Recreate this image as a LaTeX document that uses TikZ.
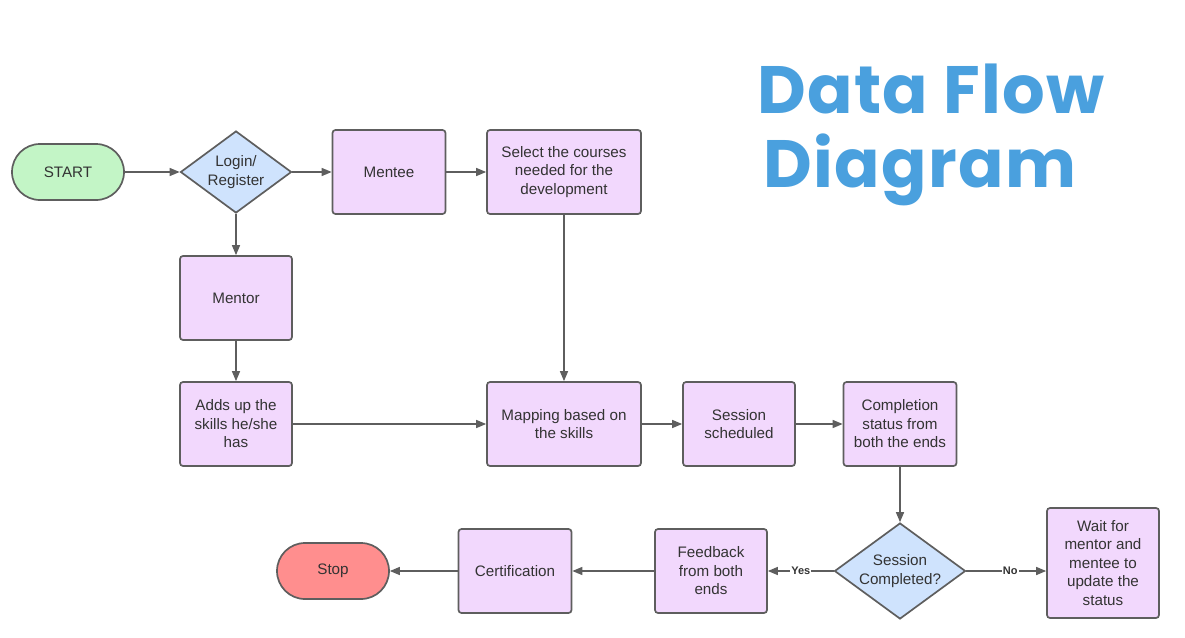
\documentclass[tikz,border=0pt]{standalone}
\usepackage{fontspec}
\setmainfont{Liberation Sans}
\newfontfamily\titlefont[LetterSpace=2]{Poppins}
\usepackage{tikz}
\usetikzlibrary{positioning, shapes.geometric, arrows.meta}

\definecolor{boxline}{HTML}{5E5E5E}
\definecolor{boxtext}{HTML}{333333}
\definecolor{procfill}{HTML}{F2D8FD}
\definecolor{startfill}{HTML}{C3F5C6}
\definecolor{decfill}{HTML}{CFE3FD}
\definecolor{stopfill}{HTML}{FF8E8E}
\definecolor{titleblue}{HTML}{4AA0DE}

\tikzset{
	base/.style={draw=boxline, line width=1.7pt, text=boxtext, font=\fontsize{15.2}{18.5}\selectfont, align=center, inner sep=2pt},
	procbox/.style={base, rectangle, rounded corners=3pt, fill=procfill, minimum width=112pt, minimum height=84pt},
	termbox/.style={base, rectangle, rounded corners=28pt, minimum width=112pt, minimum height=56pt},
	decbox/.style={base, diamond, fill=decfill, inner sep=0pt},
	flow/.style={draw=boxline, line width=1.4pt, -{Triangle[length=10pt, width=8pt]}},
	flowlabel/.style={fill=white, text=boxtext, inner sep=1pt, font=\fontsize{11}{12}\selectfont\bfseries},
	titletext/.style={text=titleblue, anchor=base, inner sep=0pt, font=\titlefont\fontsize{67}{74}\selectfont\bfseries},
}

\begin{document}
\begin{tikzpicture}[x=1pt, y=-1pt]
	\useasboundingbox[fill=white] (0,0) rectangle (1185,637);

	% title
	\node[titletext] (title1) at (931,113) {Data Flow};
	\node[titletext] (title2) at (920,187) {Diagram};

	% top row
	\node[termbox, fill=startfill] (start) at (68,172) {START};
	\node[decbox, shape aspect=1.35, minimum width=111pt, minimum height=82pt] (login) at (236,172) {Login/\\Register};
	\node[procbox, minimum width=113pt] (mentee) at (389,172) {Mentee};
	\node[procbox, minimum width=154pt] (courses) at (564,172) {Select the courses\\needed for the\\development};

	% mentor side
	\node[procbox] (mentor) at (236,298) {Mentor};
	\node[procbox] (skills) at (236,424) {Adds up the\\skills he/she\\has};

	% middle row
	\node[procbox, minimum width=154pt] (mapping) at (564,424) {Mapping based on\\the skills};
	\node[procbox] (sched) at (739,424) {Session\\scheduled};
	\node[procbox, minimum width=113pt] (status) at (900,424) {Completion\\status from\\both the ends};

	% bottom row
	\node[decbox, shape aspect=1.36, minimum width=131pt, minimum height=96pt] (done) at (900,571) {Session\\Completed?};
	\node[procbox, minimum height=110pt] (wait) at (1103,563) {Wait for\\mentor and\\mentee to\\update the\\status};
	\node[procbox] (feedback) at (711,571) {Feedback\\from both\\ends};
	\node[procbox, minimum width=113pt] (cert) at (515,571) {Certification};
	\node[termbox, fill=stopfill] (stop) at (333,571) {Stop};

	% connectors
	\draw[flow] (start) -- (login);
	\draw[flow] (login) -- (mentee);
	\draw[flow] (mentee) -- (courses);
	\draw[flow] (login) -- (mentor);
	\draw[flow] (mentor) -- (skills);
	\draw[flow] (courses) -- (mapping);
	\draw[flow] (skills) -- (mapping);
	\draw[flow] (mapping) -- (sched);
	\draw[flow] (sched) -- (status);
	\draw[flow] (status) -- (done);
	\draw[flow] (done.east) -- node[flowlabel, pos=0.55] {No} (done.east -| wait.west);
	\draw[flow] (done) -- node[flowlabel, pos=0.5] {Yes} (feedback);
	\draw[flow] (feedback) -- (cert);
	\draw[flow] (cert) -- (stop);
\end{tikzpicture}
\end{document}
